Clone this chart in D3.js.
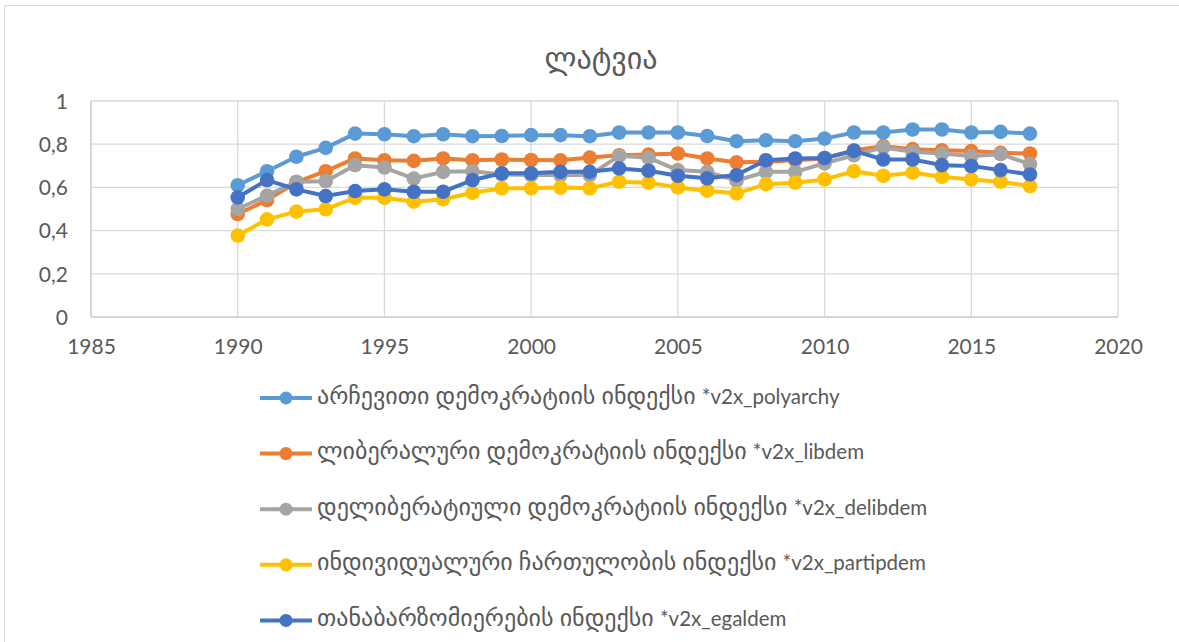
<!DOCTYPE html>
<html><head><meta charset="utf-8">
<script src="https://cdn.jsdelivr.net/npm/d3@7"></script>
<style>
html,body{margin:0;padding:0;background:#fff;}
text{font-family:Lato,"DejaVu Sans",sans-serif;fill:#595959;}
</style></head>
<body><svg id="c" width="1179" height="642"></svg>
<script>
const title = "ლატვია";
const years = [1990,1991,1992,1993,1994,1995,1996,1997,1998,1999,2000,2001,2002,2003,2004,2005,2006,2007,2008,2009,2010,2011,2012,2013,2014,2015,2016,2017];
const seriesGeo = [
  "არჩევითი დემოკრატიის ინდექსი  ",
  "ლიბერალური დემოკრატიის ინდექსი ",
  "დელიბერატიული დემოკრატიის ინდექსი ",
  "ინდივიდუალური ჩართულობის ინდექსი ",
  "თანაბარზომიერების ინდექსი "
];
const seriesCodes = ["*v2x_polyarchy","*v2x_libdem","*v2x_delibdem","*v2x_partipdem","*v2x_egaldem"];
const seriesColors = ["#5B9BD5","#ED7D31","#A5A5A5","#FFC000","#4472C4"];
const polyarchy = [0.61,0.675,0.742,0.783,0.849,0.846,0.837,0.846,0.837,0.838,0.842,0.842,0.837,0.854,0.854,0.854,0.838,0.814,0.818,0.814,0.826,0.854,0.854,0.868,0.868,0.854,0.857,0.849];
const libdem = [0.477,0.541,0.624,0.675,0.734,0.726,0.723,0.734,0.726,0.729,0.727,0.726,0.738,0.749,0.752,0.757,0.734,0.716,0.719,0.726,0.734,0.772,0.791,0.777,0.772,0.768,0.760,0.757];
const delibdem = [0.500,0.562,0.626,0.629,0.703,0.692,0.641,0.672,0.675,0.660,0.657,0.657,0.657,0.746,0.737,0.680,0.672,0.631,0.672,0.672,0.711,0.749,0.785,0.765,0.757,0.745,0.754,0.708];
const partipdem = [0.377,0.452,0.488,0.499,0.552,0.552,0.534,0.545,0.575,0.596,0.596,0.599,0.596,0.626,0.622,0.600,0.585,0.572,0.615,0.622,0.637,0.675,0.654,0.668,0.649,0.637,0.626,0.606];
const egaldem = [0.554,0.634,0.591,0.560,0.583,0.591,0.580,0.580,0.634,0.665,0.665,0.672,0.672,0.688,0.677,0.654,0.642,0.657,0.726,0.734,0.736,0.769,0.729,0.729,0.703,0.699,0.680,0.660];
const seriesValues = [polyarchy, libdem, delibdem, partipdem, egaldem];
const xTicks = [1985,1990,1995,2000,2005,2010,2015,2020];
const yTicks = [0,0.2,0.4,0.6,0.8,1];
const yTickLabels = ["0","0,2","0,4","0,6","0,8","1"];

const svg = d3.select("#c");
svg.append("rect").attr("x",4.5).attr("y",5.5).attr("width",1300).attr("height",700)
  .attr("fill","#fff").attr("stroke","#d9d9d9").attr("stroke-width",1);

const L=91, R=1118, T=101, B=317;
const x = d3.scaleLinear().domain([1985,2020]).range([L,R]);
const y = d3.scaleLinear().domain([0,1]).range([B,T]);

const g = svg.append("g");
g.selectAll(".hg").data(yTicks).enter().append("line")
  .attr("x1",L).attr("x2",R).attr("y1",d=>y(d)).attr("y2",d=>y(d))
  .attr("stroke","#d9d9d9").attr("stroke-width",1.3);
g.selectAll(".vg").data(xTicks).enter().append("line")
  .attr("y1",T).attr("y2",B).attr("x1",d=>x(d)).attr("x2",d=>x(d))
  .attr("stroke","#d9d9d9").attr("stroke-width",1.3);

const yAxis = d3.axisLeft(y).tickValues(yTicks).tickFormat((d,i)=>yTickLabels[i]).tickSize(0).tickPadding(23);
const ya = svg.append("g").attr("transform",`translate(${L},0)`).call(yAxis);
ya.select(".domain").remove();
ya.selectAll("text").style("font-size","21px").attr("fill","#595959").attr("dy","0.35em");

const xAxis = d3.axisBottom(x).tickValues(xTicks).tickFormat(d3.format("d")).tickSize(0).tickPadding(22);
const xa = svg.append("g").attr("transform",`translate(0,${B})`).call(xAxis);
xa.select(".domain").remove();
xa.selectAll("text").style("font-size","21px").attr("fill","#595959");

svg.append("line").attr("x1",L).attr("x2",R).attr("y1",B).attr("y2",B).attr("stroke","#d0d0d0").attr("stroke-width",1.5);
svg.append("line").attr("x1",L).attr("x2",L).attr("y1",T).attr("y2",B).attr("stroke","#d0d0d0").attr("stroke-width",1.5);

svg.append("text").attr("x",601).attr("y",69).attr("text-anchor","middle")
  .style("font-size","30px").text(title);

const line = d3.line().x((d,i)=>x(years[i])).y(d=>y(d));
seriesValues.forEach((vals,k)=>{
  const sg = svg.append("g");
  sg.append("path").datum(vals).attr("d",line).attr("fill","none")
    .attr("stroke",seriesColors[k]).attr("stroke-width",4).attr("stroke-linejoin","round");
  sg.selectAll("circle").data(vals).enter().append("circle")
    .attr("cx",(d,i)=>x(years[i])).attr("cy",d=>y(d)).attr("r",7.3).attr("fill",seriesColors[k]);
});

const leg = svg.append("g");
seriesGeo.forEach((name,k)=>{
  const ly = 398 + k*55.6;
  leg.append("line").attr("x1",260).attr("x2",312).attr("y1",ly).attr("y2",ly)
    .attr("stroke",seriesColors[k]).attr("stroke-width",4);
  leg.append("circle").attr("cx",286).attr("cy",ly).attr("r",6.5).attr("fill",seriesColors[k]);
  const t = leg.append("text").attr("x",317).attr("y",ly).attr("dy","0.35em");
  t.append("tspan").style("font-size","24px").text(name);
  t.append("tspan").style("font-size","20.5px").text(seriesCodes[k]);
});
</script></body></html>
